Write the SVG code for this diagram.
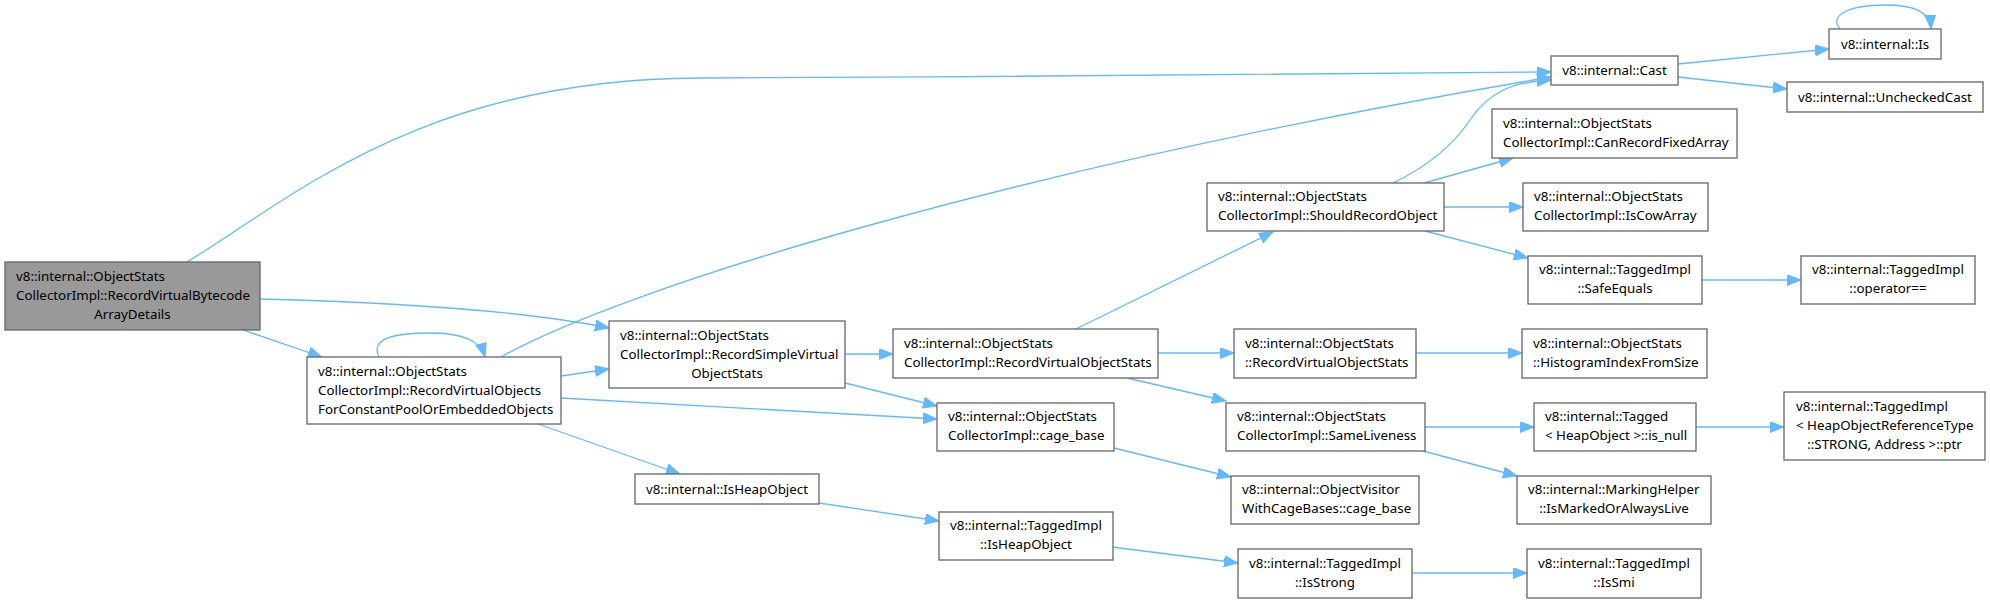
<svg xmlns="http://www.w3.org/2000/svg" width="1990" height="603" viewBox="0 0 1990 603">
<style>
.n rect{fill:#ffffff;stroke:#666666;stroke-width:1.3}
.n.root rect{fill:#999999}
.n text{font-family:"Noto Sans","DejaVu Sans",sans-serif;font-size:13.33px;fill:#000000}
.n text.c{text-anchor:middle}
#edges path{fill:none;stroke:#63b8ff;stroke-width:1.3;marker-end:url(#ah)}
</style>
<defs>
<marker id="ah" markerUnits="userSpaceOnUse" markerWidth="15" markerHeight="12" refX="14" refY="5.5" orient="auto">
<path d="M0,0 L14,5.5 L0,11 z" fill="#63b8ff" stroke="#63b8ff" stroke-width="1"/>
</marker>
</defs>
<rect width="1990" height="603" fill="#ffffff"/>
<g id="edges">
<path d="M243,330 L322,357"/>
<path d="M260,299 C380,302 520,310 609,328"/>
<path d="M187,262 C290,200 420,79 700,78 C1000,77 1350,74 1551,72"/>
<path d="M379,357 C370,338 395,333 430,333 C462,333 480,340 485,357"/>
<path d="M501,357 C620,290 1000,170 1551,77"/>
<path d="M561,376 L609,369"/>
<path d="M561,398 L937,419"/>
<path d="M538,424 L680,474"/>
<path d="M845,354 L893,354"/>
<path d="M845,383 L937,406"/>
<path d="M1076,329 L1273,232"/>
<path d="M1158,353 L1234,353"/>
<path d="M1127,378 L1226,401"/>
<path d="M1393,183 C1420,170 1450,150 1470,120 C1490,90 1515,82 1551,80"/>
<path d="M1424,183 L1513,158"/>
<path d="M1444,207 L1523,207"/>
<path d="M1425,231 L1528,258"/>
<path d="M1702,280 L1801,280"/>
<path d="M1416,353 L1522,353"/>
<path d="M1425,427 L1534,427"/>
<path d="M1423,451 L1517,476"/>
<path d="M1696,427 L1784,427"/>
<path d="M1114,448 L1231,477"/>
<path d="M819,503 L939,521"/>
<path d="M1112,547 L1238,563"/>
<path d="M1412,573 L1527,573"/>
<path d="M1678,64 L1829,49"/>
<path d="M1678,77 L1787,89"/>
<path d="M1840,29 C1828,15 1850,5 1885,5 C1915,5 1930,12 1931,29"/>
</g>
<g id="node_root" class="n root">
<rect x="5" y="262" width="255" height="68"/>
<text x="16" y="281">v8::internal::ObjectStats</text>
<text x="16" y="300">CollectorImpl::RecordVirtualBytecode</text>
<text class="c" x="132.5" y="319">ArrayDetails</text>
</g>
<g id="node_recordvirtualobjects" class="n">
<rect x="307" y="357" width="254" height="67"/>
<text x="318" y="376">v8::internal::ObjectStats</text>
<text x="318" y="395">CollectorImpl::RecordVirtualObjects</text>
<text x="318" y="414">ForConstantPoolOrEmbeddedObjects</text>
</g>
<g id="node_recordsimplevirtual" class="n">
<rect x="609" y="321" width="236" height="67"/>
<text x="620" y="340">v8::internal::ObjectStats</text>
<text x="620" y="359">CollectorImpl::RecordSimpleVirtual</text>
<text class="c" x="727" y="378">ObjectStats</text>
</g>
<g id="node_recordvirtualobjectstats_ci" class="n">
<rect x="893" y="329" width="265" height="49"/>
<text x="904" y="347.5">v8::internal::ObjectStats</text>
<text x="904" y="366.5">CollectorImpl::RecordVirtualObjectStats</text>
</g>
<g id="node_cage_base" class="n">
<rect x="937" y="403" width="177" height="48"/>
<text x="948" y="421">v8::internal::ObjectStats</text>
<text x="948" y="440">CollectorImpl::cage_base</text>
</g>
<g id="node_isheapobject" class="n">
<rect x="635" y="474" width="184" height="30"/>
<text class="c" x="727" y="493.5">v8::internal::IsHeapObject</text>
</g>
<g id="node_taggedimpl_isheapobject" class="n">
<rect x="939" y="512" width="174" height="48"/>
<text x="950" y="530">v8::internal::TaggedImpl</text>
<text class="c" x="1026" y="549">::IsHeapObject</text>
</g>
<g id="node_shouldrecordobject" class="n">
<rect x="1207" y="183" width="237" height="48"/>
<text x="1218" y="201">v8::internal::ObjectStats</text>
<text x="1218" y="220">CollectorImpl::ShouldRecordObject</text>
</g>
<g id="node_canrecordfixedarray" class="n">
<rect x="1492" y="109" width="245" height="49"/>
<text x="1503" y="127.5">v8::internal::ObjectStats</text>
<text x="1503" y="146.5">CollectorImpl::CanRecordFixedArray</text>
</g>
<g id="node_iscowarray" class="n">
<rect x="1523" y="183" width="185" height="48"/>
<text x="1534" y="201">v8::internal::ObjectStats</text>
<text x="1534" y="220">CollectorImpl::IsCowArray</text>
</g>
<g id="node_safeequals" class="n">
<rect x="1528" y="256" width="174" height="48"/>
<text x="1539" y="274">v8::internal::TaggedImpl</text>
<text class="c" x="1615" y="293">::SafeEquals</text>
</g>
<g id="node_operator_eq" class="n">
<rect x="1801" y="256" width="174" height="48"/>
<text x="1812" y="274">v8::internal::TaggedImpl</text>
<text class="c" x="1888" y="293">::operator==</text>
</g>
<g id="node_recordvirtualobjectstats" class="n">
<rect x="1234" y="329" width="182" height="49"/>
<text x="1245" y="347.5">v8::internal::ObjectStats</text>
<text x="1245" y="366.5">::RecordVirtualObjectStats</text>
</g>
<g id="node_histogramindexfromsize" class="n">
<rect x="1522" y="329" width="185" height="49"/>
<text x="1533" y="347.5">v8::internal::ObjectStats</text>
<text x="1533" y="366.5">::HistogramIndexFromSize</text>
</g>
<g id="node_sameliveness" class="n">
<rect x="1226" y="403" width="199" height="48"/>
<text x="1237" y="421">v8::internal::ObjectStats</text>
<text x="1237" y="440">CollectorImpl::SameLiveness</text>
</g>
<g id="node_is_null" class="n">
<rect x="1534" y="403" width="162" height="48"/>
<text x="1545" y="421">v8::internal::Tagged</text>
<text x="1545" y="440">&lt; HeapObject &gt;::is_null</text>
</g>
<g id="node_ptr" class="n">
<rect x="1784" y="392" width="201" height="68"/>
<text x="1796" y="411">v8::internal::TaggedImpl</text>
<text x="1796" y="430">&lt; HeapObjectReferenceType</text>
<text class="c" x="1884.5" y="449">::STRONG, Address &gt;::ptr</text>
</g>
<g id="node_markinghelper" class="n">
<rect x="1517" y="476" width="194" height="48"/>
<text x="1528" y="494">v8::internal::MarkingHelper</text>
<text class="c" x="1614" y="513">::IsMarkedOrAlwaysLive</text>
</g>
<g id="node_objectvisitor" class="n">
<rect x="1231" y="476" width="188" height="48"/>
<text x="1242" y="494">v8::internal::ObjectVisitor</text>
<text x="1242" y="513">WithCageBases::cage_base</text>
</g>
<g id="node_isstrong" class="n">
<rect x="1238" y="549" width="174" height="49"/>
<text x="1249" y="567.5">v8::internal::TaggedImpl</text>
<text class="c" x="1325" y="586.5">::IsStrong</text>
</g>
<g id="node_issmi" class="n">
<rect x="1527" y="549" width="174" height="49"/>
<text x="1538" y="567.5">v8::internal::TaggedImpl</text>
<text class="c" x="1614" y="586.5">::IsSmi</text>
</g>
<g id="node_cast" class="n">
<rect x="1551" y="56" width="127" height="29"/>
<text class="c" x="1614.5" y="75">v8::internal::Cast</text>
</g>
<g id="node_is" class="n">
<rect x="1829" y="29" width="112" height="30"/>
<text class="c" x="1885" y="48.5">v8::internal::Is</text>
</g>
<g id="node_uncheckedcast" class="n">
<rect x="1787" y="82" width="196" height="30"/>
<text class="c" x="1885" y="101.5">v8::internal::UncheckedCast</text>
</g>
</svg>
